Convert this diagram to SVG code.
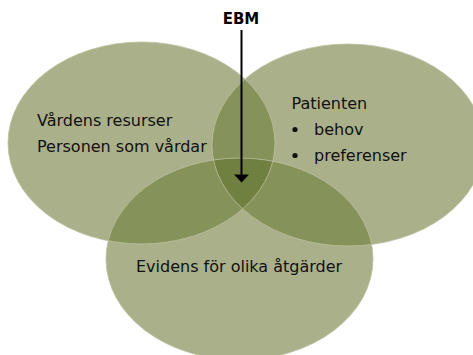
<svg xmlns="http://www.w3.org/2000/svg" width="473" height="355" viewBox="0 0 473 355">
<style>
.base{fill:#aab08a}
.dbl{fill:#859259}
.tri{fill:#6f8040}
.edge{fill:none;stroke:#bcc09e;stroke-width:0.8}
.t{font-family:"DejaVu Sans",Verdana,sans-serif;font-size:16px;fill:#111}
.b{font-family:"DejaVu Sans",Verdana,sans-serif;font-size:15px;font-weight:bold;fill:#000;text-anchor:middle}
</style>
<defs>
<ellipse id="eL" cx="141.5" cy="143" rx="133.5" ry="101"/>
<ellipse id="eR" cx="348" cy="145" rx="136" ry="101"/>
<ellipse id="eB" cx="239.5" cy="259" rx="133.5" ry="101"/>
<clipPath id="cL"><use href="#eL"/></clipPath>
<clipPath id="cR"><use href="#eR"/></clipPath>
</defs>
<g id="circles">
<g id="resurser"><use href="#eL" class="base"/></g>
<g id="patienten"><use href="#eR" class="base"/></g>
<g id="evidens"><use href="#eB" class="base"/></g>
<g id="overlaps">
<use href="#eR" class="dbl" clip-path="url(#cL)"/>
<use href="#eB" class="dbl" clip-path="url(#cL)"/>
<use href="#eB" class="dbl" clip-path="url(#cR)"/>
<g clip-path="url(#cL)"><use href="#eB" class="tri" clip-path="url(#cR)"/></g>
</g>
<use href="#eL" class="edge"/>
<use href="#eR" class="edge"/>
<use href="#eB" class="edge"/>
</g>
<g id="labels">
<text class="t" x="37" y="126">Vårdens resurser</text>
<text class="t" x="37" y="152">Personen som vårdar</text>
<text class="t" x="291.5" y="109">Patienten</text>
<circle cx="295" cy="129.5" r="2.6" fill="#111"/>
<text class="t" x="314" y="135">behov</text>
<circle cx="295" cy="155.5" r="2.6" fill="#111"/>
<text class="t" x="314" y="161">preferenser</text>
<text class="t" x="136" y="272">Evidens för olika åtgärder</text>
</g>
<g id="ebm">
<text class="b" x="241" y="24">EBM</text>
</g>
<g id="connectors">
<line x1="241.5" y1="30" x2="241.5" y2="175" stroke="#000" stroke-width="2"/>
<polygon points="234,174.5 249,174.5 241.5,182.5" fill="#000"/>
</g>
</svg>
